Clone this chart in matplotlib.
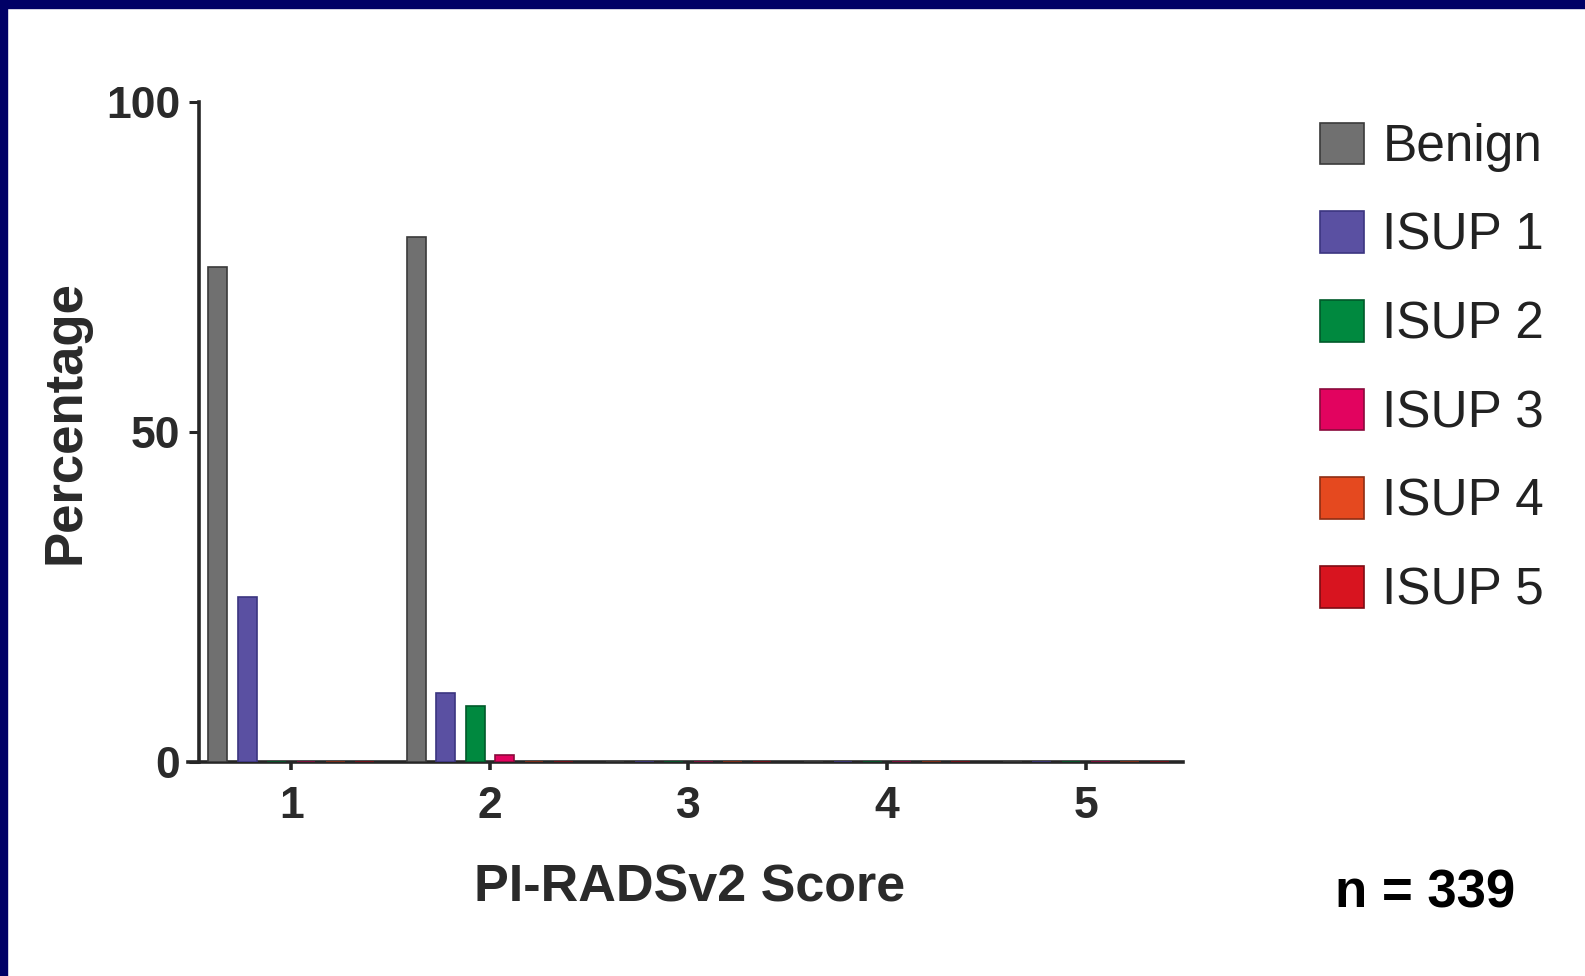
import matplotlib
matplotlib.use('Agg')
import matplotlib.pyplot as plt
import numpy as np
from matplotlib.patches import Rectangle

plt.rcParams['font.family'] = ['Liberation Sans', 'DejaVu Sans']

scores = [1, 2, 3, 4, 5]
groups = ['Benign', 'ISUP 1', 'ISUP 2', 'ISUP 3', 'ISUP 4', 'ISUP 5']
benign = [75.0, 79.5, 0, 0, 0]
isup1 = [25.0, 10.5, 0, 0, 0]
isup2 = [0, 8.5, 0, 0, 0]
isup3 = [0, 1.1, 0, 0, 0]
isup4 = [0, 0, 0, 0, 0]
isup5 = [0, 0, 0, 0, 0]
series = [benign, isup1, isup2, isup3, isup4, isup5]
colors = ['#707070', '#5a50a2', '#00893f', '#e2035f', '#e5491f', '#d8141f']
edges = ['#3a3a3a', '#3b3580', '#005a2a', '#8a0a3c', '#8e2e14', '#7e0c14']

W, H = 1585, 976
fig = plt.figure(figsize=(W / 100, H / 100), dpi=100)
fig.patch.set_facecolor('white')

# navy frame on top and left
fig.patches.append(Rectangle((0, 1 - 8 / H), 1, 8 / H, transform=fig.transFigure,
                             color='#000066', zorder=10))
fig.patches.append(Rectangle((0, 0), 7 / W, 1, transform=fig.transFigure,
                             color='#000066', zorder=10))

ax = fig.add_axes([188 / W, 1 - 762 / H, 995 / W, 660 / H])

x = np.array(scores, dtype=float)
step = 0.148
width = 0.095
for i, (vals, c, ec, lab) in enumerate(zip(series, colors, edges, groups)):
    ax.bar(x + (i - 2.5) * step, vals, width, color=c, edgecolor=ec,
           linewidth=1.2, label=lab, zorder=3)

ax.set_xlim(0.48, 5.49)
ax.set_ylim(0, 100)
ax.set_xticks(scores)
ax.set_yticks([0, 50, 100])

for s in ['top', 'right']:
    ax.spines[s].set_visible(False)
ax.spines['left'].set_position(('data', 0.533))
for s in ['left', 'bottom']:
    ax.spines[s].set_linewidth(2.6)
    ax.spines[s].set_color('#262626')

ax.tick_params(axis='y', direction='out', length=7, width=2.2, color='#262626',
               pad=6, labelsize=32, labelcolor='#2a2a2a')
ax.tick_params(axis='x', direction='out', length=6, width=2.6, color='#262626',
               pad=11, labelsize=32, labelcolor='#2a2a2a')
for t in ax.get_xticklabels() + ax.get_yticklabels():
    t.set_fontweight('bold')

fig.text(65 / W, 1 - 422 / H, 'Percentage', rotation=90, ha='center', va='center',
         fontsize=38, fontweight='bold', color='#2a2a2a')
fig.text(690 / W, 1 - 888 / H, 'PI-RADSv2 Score', ha='center', va='center',
         fontsize=37.5, fontweight='bold', color='#2a2a2a')
fig.text(1335 / W, 1 - 908 / H, 'n = 339', ha='left', va='baseline',
         fontsize=38, fontweight='bold', color='black')

fig.legend(loc='upper left', bbox_to_anchor=(1294 / W, 1 - 97 / H),
           frameon=False, fontsize=37, handlelength=0.87, handleheight=0.87,
           handletextpad=0.35, labelspacing=0.76, borderpad=0,
           labelcolor='#222222')

fig.savefig('out.png', dpi=100)
